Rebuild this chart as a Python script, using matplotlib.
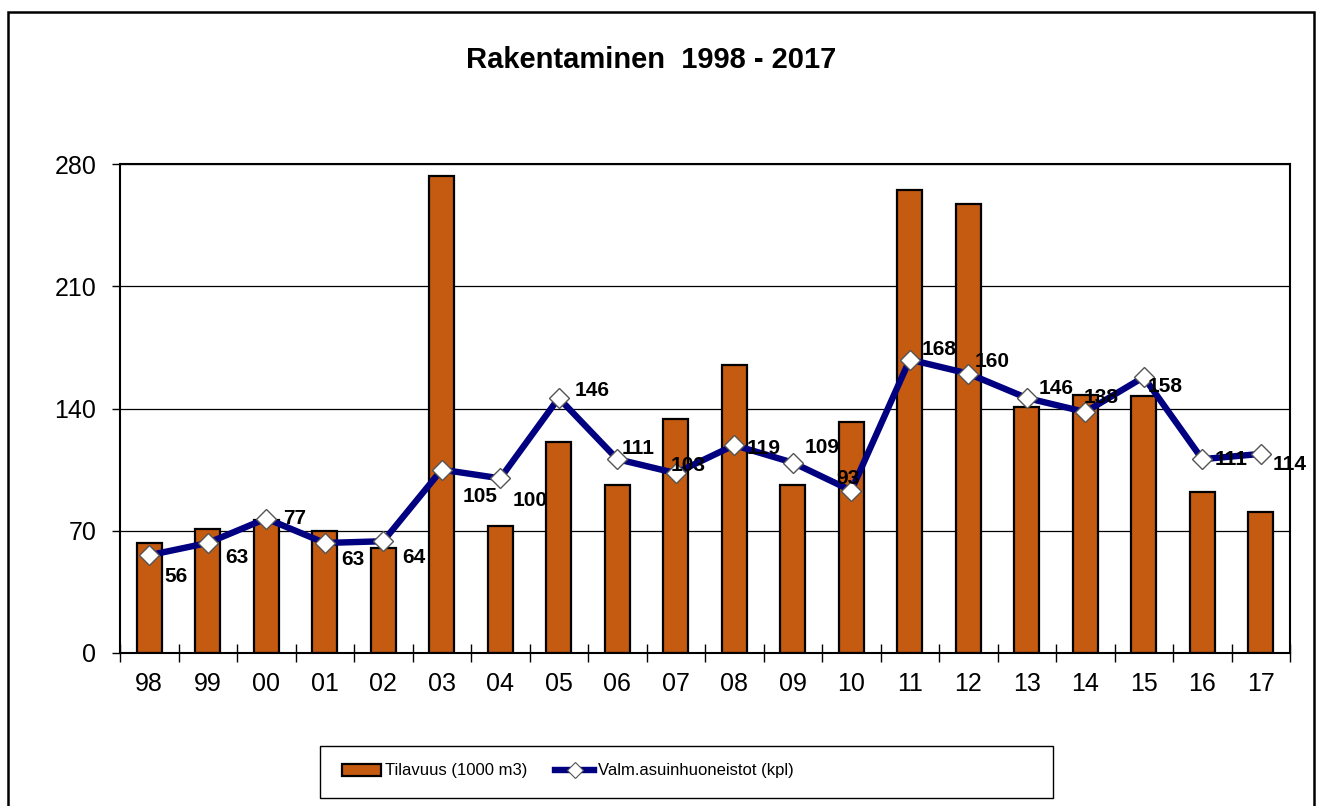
import numpy as np
from matplotlib import pyplot as plt
from matplotlib import rc, font_manager
from matplotlib.patches import Rectangle
from matplotlib.lines import Line2D

rc('font', family=['Liberation Sans', 'DejaVu Sans'])

years = ['98', '99', '00', '01', '02', '03', '04', '05', '06', '07',
         '08', '09', '10', '11', '12', '13', '14', '15', '16', '17']
tilavuus = [63, 71, 76, 70, 60, 273, 73, 121, 96, 134,
            165, 96, 132, 265, 257, 141, 148, 147, 92, 81]
asunnot = [56, 63, 77, 63, 64, 105, 100, 146, 111, 103,
           119, 109, 93, 168, 160, 146, 138, 158, 111, 114]
yticks = [0, 70, 140, 210, 280]

# label offsets in pixels (dx right, dy down) as they sit in the original
label_dx = [27, 29, 28, 28, 31, 38, 30, 33, 21, 12, 29, 29, -3, 29, 24, 29, 16, 21, 29, 29]
label_dy = [21, 15, 0, 17, 16, 27, 22, -8, -11, -8, 3, -15, -12, -10, -12, -10, -14, 9, 0, 11]

W, H = 1322, 806
fig = plt.figure(figsize=(W / 100, H / 100), dpi=100)
ax = fig.add_axes([120 / W, 1 - 653 / H, 1170 / W, 489 / H])

x = np.arange(len(years))
bar_color = '#C55A11'
line_color = '#000080'

ax.bar(x, tilavuus, 0.43, color=bar_color, edgecolor='black', linewidth=1.6, zorder=2)
ax.plot(x, asunnot, color=line_color, linewidth=4.6, zorder=3,
        marker='D', markersize=10, markerfacecolor='white',
        markeredgecolor='#555555', markeredgewidth=1)

for i, v in enumerate(asunnot):
    ax.annotate(str(v), (x[i], v), xytext=(label_dx[i], -label_dy[i]),
                textcoords='offset pixels', ha='center', va='center',
                fontsize=15, fontweight='bold', zorder=4, annotation_clip=False)

ax.set_xlim(-0.5, len(years) - 0.5)
ax.set_ylim(0, 280)
ax.set_yticks(yticks)
ax.set_yticklabels([str(t) for t in yticks], fontsize=18)
ax.tick_params(axis='y', direction='out', length=6, width=1, pad=11)

ax.set_xticks(x)
ax.set_xticklabels(years, fontsize=18)
ax.set_xticks(np.arange(-0.5, len(years)), minor=True)
ax.tick_params(axis='x', which='major', length=0, pad=14)
ax.tick_params(axis='x', which='minor', direction='inout', length=13, width=1)

ax.grid(axis='y', color='black', linewidth=0.9, zorder=0)
ax.set_axisbelow(True)
for s in ax.spines.values():
    s.set_linewidth(1.5)

fig.text(651 / W, 1 - 60 / H, 'Rakentaminen  1998 - 2017', ha='center', va='center',
         fontsize=21, fontweight='bold')

# outer chart frame
fig.patches.append(Rectangle((8 / W, -0.1), 1306 / W, 1.1 - 12 / H, transform=fig.transFigure,
                             fill=False, edgecolor='black', linewidth=1.8))
# legend box
fig.patches.append(Rectangle((320 / W, 1 - 798 / H), 733 / W, 52 / H, transform=fig.transFigure,
                             fill=False, edgecolor='black', linewidth=1))

# the legend text is a narrow face in the original
names = {f.name for f in font_manager.fontManager.ttflist}
if 'Liberation Sans Narrow' in names:
    leg_font = {'family': 'Liberation Sans Narrow', 'size': 14.5}
else:
    leg_font = {'family': 'Liberation Sans', 'size': 12}

handles = [Rectangle((0, 0), 1, 1, facecolor=bar_color, edgecolor='black', linewidth=1.6),
           Line2D([], [], color=line_color, linewidth=4.6, marker='D', markersize=8,
                  markerfacecolor='white', markeredgecolor='#555555', markeredgewidth=0.8)]
fs = leg_font['size'] * 100 / 72
fig.legend(handles, ['Tilavuus (1000 m3)', 'Valm.asuinhuoneistot (kpl)'],
           loc='center left', bbox_to_anchor=(342 / W, 1 - 771 / H), ncol=2,
           frameon=False, prop=leg_font, handlelength=39 / fs, handletextpad=4 / fs,
           columnspacing=28 / fs, borderpad=0, borderaxespad=0, numpoints=1)

fig.savefig('out.png', dpi=100)
